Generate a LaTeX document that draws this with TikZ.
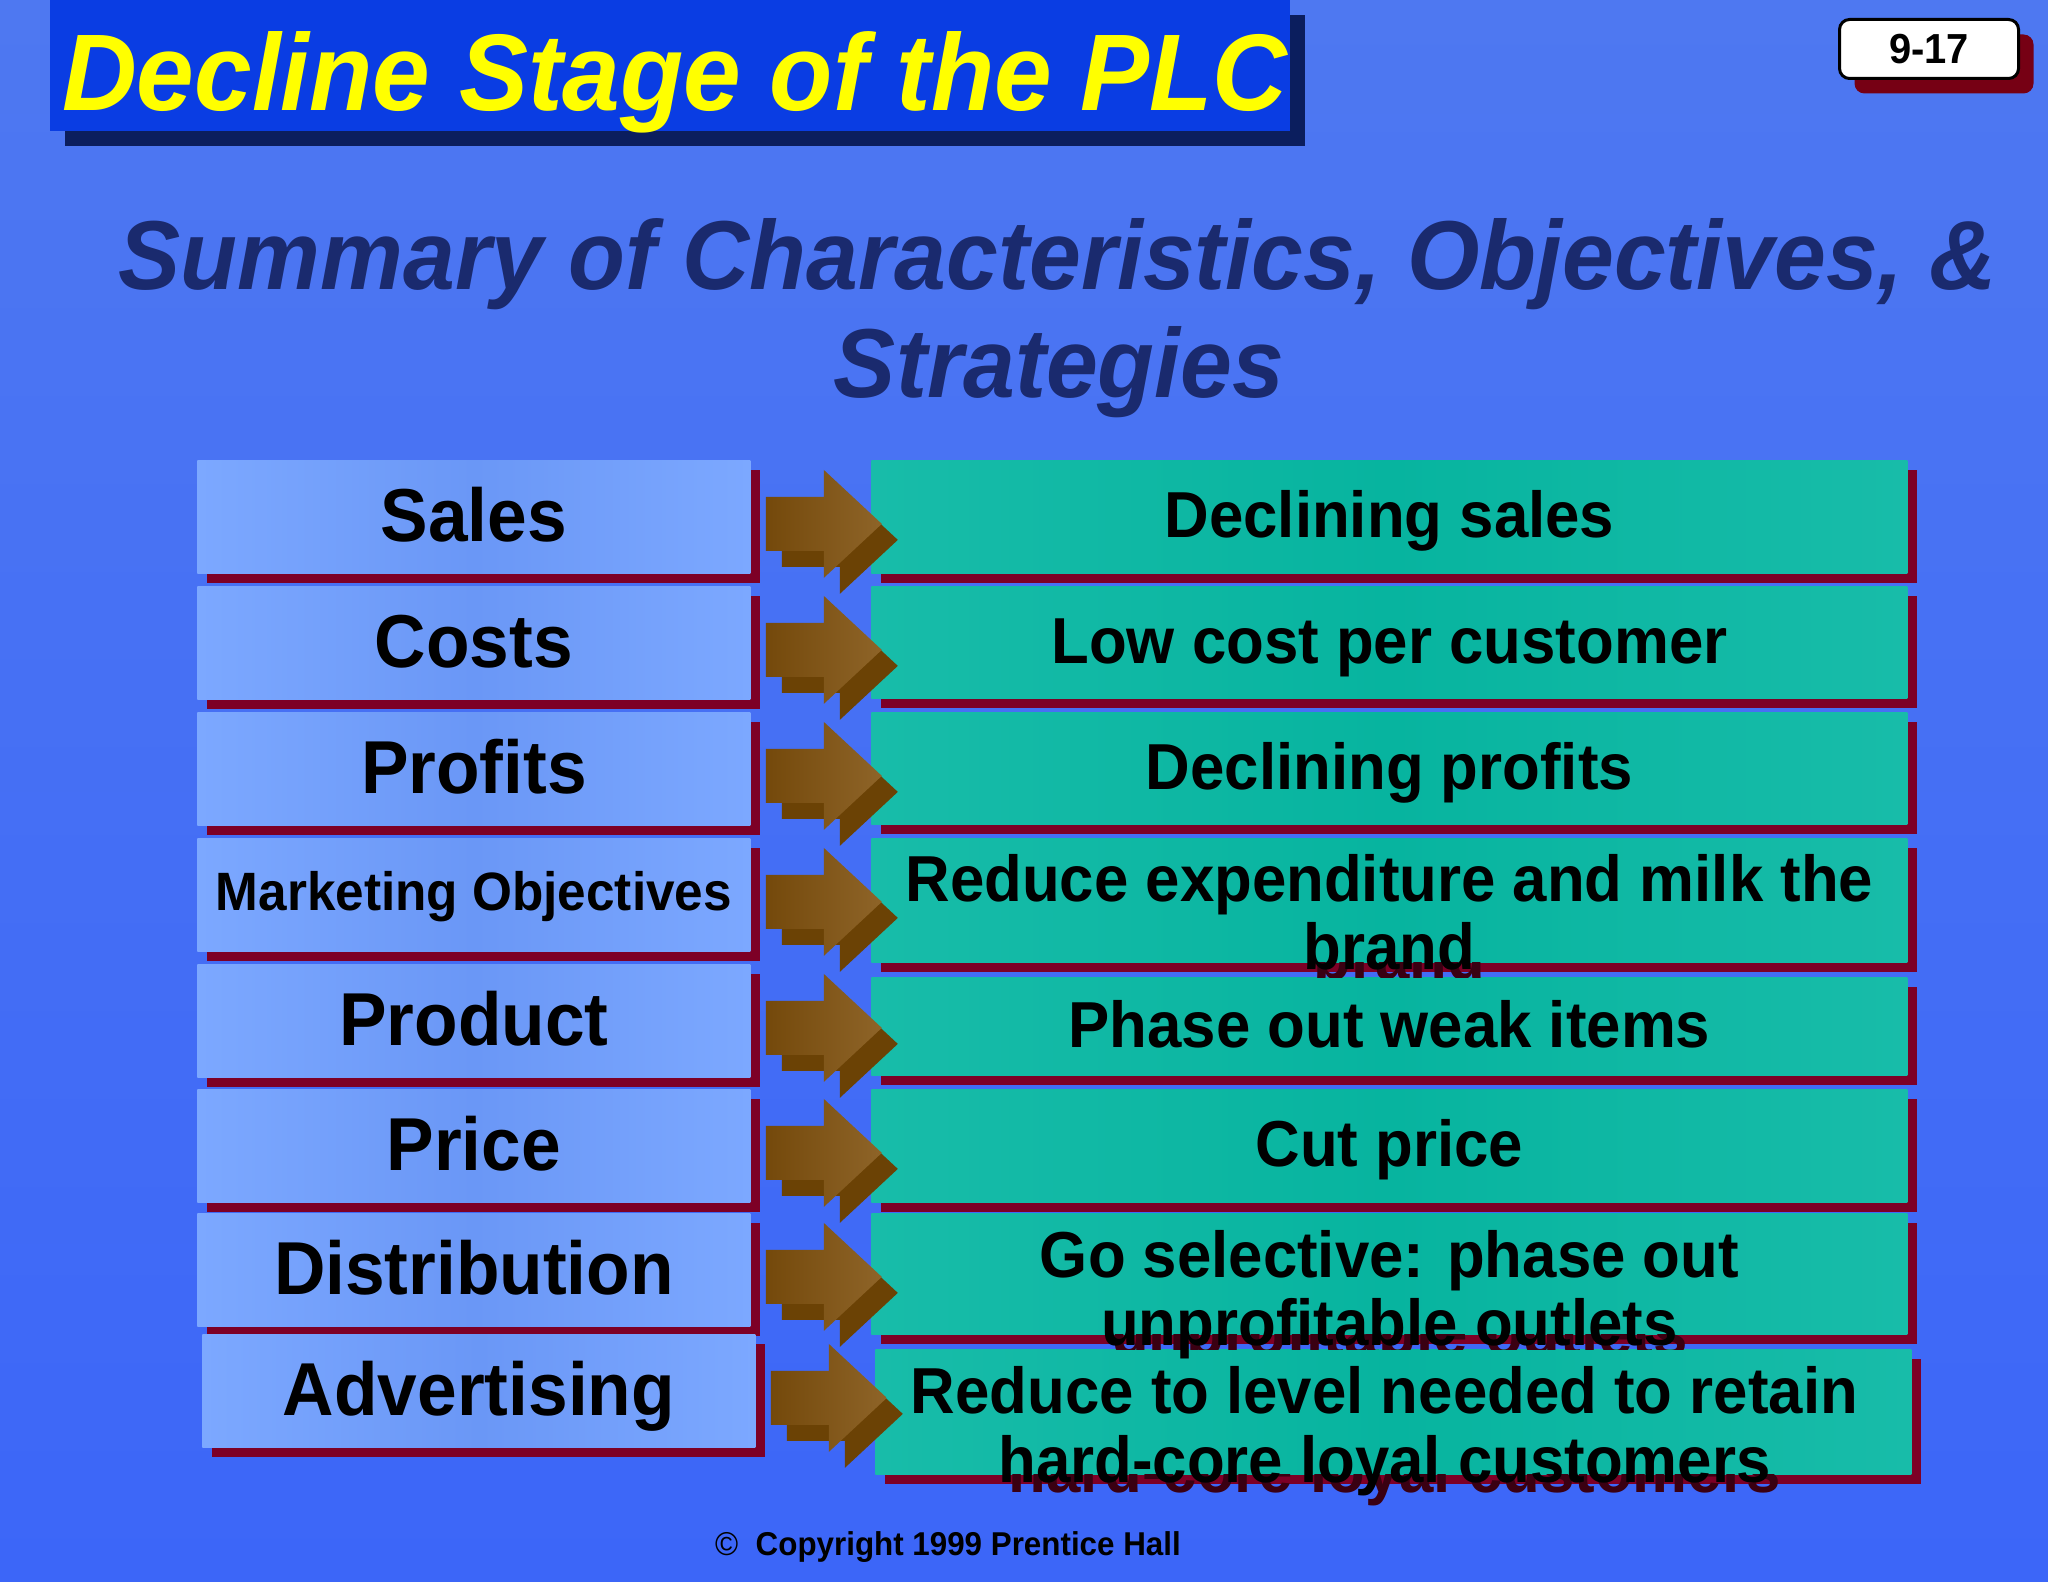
\documentclass[tikz,border=0pt]{standalone}
\usepackage{fontspec}
\setmainfont{Liberation Sans}[FakeStretch=0.95]
\usetikzlibrary{shadows,calc}
\definecolor{bgtop}{HTML}{4E78F1}
\definecolor{bgbot}{HTML}{3C66F8}
\definecolor{titlebg}{HTML}{0A3DE3}
\definecolor{titlesh}{HTML}{0B1E5E}
\definecolor{subnavy}{HTML}{1A2A6E}
\definecolor{lblueA}{HTML}{7CA8FF}
\definecolor{lblueB}{HTML}{6A97F6}
\definecolor{plctealA}{HTML}{18BCA9}
\definecolor{plctealB}{HTML}{07B49F}
\definecolor{shred}{HTML}{7D0026}
\definecolor{pgsh}{HTML}{760014}
\definecolor{arA}{HTML}{74490B}
\definecolor{arB}{HTML}{8E6428}
\definecolor{arS}{HTML}{6B4205}
\definecolor{txtsh}{HTML}{3A0012}
\definecolor{plcyellow}{HTML}{FFFF00}
\newcommand\plcarrow[1]{%
  \fill[arS] ([shift={(15.5pt,2pt)}]L#1.east) -- ++(29pt,0pt) -- ++(0pt,13.5pt)
     -- ++(29pt,-27pt) -- ++(-29pt,-27pt) -- ++(0pt,13.5pt) -- ++(-29pt,0pt) -- cycle;
  \shade[left color=arA,right color=arB] ([shift={(7.5pt,10pt)}]L#1.east) -- ++(29pt,0pt) -- ++(0pt,13.5pt)
     -- ++(29pt,-27pt) -- ++(-29pt,-27pt) -- ++(0pt,13.5pt) -- ++(-29pt,0pt) -- cycle;}
\begin{document}
\begin{tikzpicture}[x=0.5pt,y=-0.5pt,
  lbox/.style={left color=lblueA, right color=lblueA, middle color=lblueB,
    minimum width=276.5pt, minimum height=56.5pt, inner sep=0pt, anchor=north west,
    drop shadow={shadow xshift=5pt,shadow yshift=-5pt,fill=shred,opacity=1}},
  rbox/.style={left color=plctealA, right color=plctealA, middle color=plctealB,
    minimum width=518pt, inner sep=0pt, anchor=north west,
    drop shadow={shadow xshift=5pt,shadow yshift=-5pt,fill=shred,opacity=1}},
  ltxt/.style={font=\fontsize{37.5pt}{40pt}\selectfont\bfseries, anchor=base, inner sep=0pt},
  mtxt/.style={font=\fontsize{27pt}{30pt}\selectfont\bfseries, anchor=base, inner sep=0pt},
  rtxt/.style={font=\fontsize{32.5pt}{36pt}\selectfont\bfseries, anchor=base, inner sep=0pt},
  rtxtsh/.style={rtxt, text=txtsh}
]
\useasboundingbox (0,0) rectangle (2048,1582);
\shade[top color=bgtop,bottom color=bgbot] (0,0) rectangle (2048,1582);

% title
\node[fill=titlebg, minimum width=620pt, minimum height=65.5pt, inner sep=0pt, anchor=north west,
  drop shadow={shadow xshift=7.5pt,shadow yshift=-7.5pt,fill=titlesh,opacity=1}] (titlebox) at (50,0) {};
\node[font=\fontsize{54.5pt}{58pt}\selectfont\bfseries\itshape, text=plcyellow, anchor=base, inner sep=0pt]
  (title) at (675,111) {Decline Stage of the PLC};

% page number
\node[fill=white, draw=black, line width=1.5pt, rounded corners=5pt, minimum width=89.5pt, minimum height=29.5pt,
  inner sep=0pt, anchor=north west, font=\fontsize{21pt}{24pt}\selectfont\bfseries,
  drop shadow={shadow xshift=7.5pt,shadow yshift=-7.5pt,fill=pgsh,opacity=1,draw=none}] (pg) at (1838,18) {9-17};

% subtitle
\node[font=\fontsize{49pt}{52pt}\selectfont\bfseries\itshape, text=subnavy, anchor=base, inner sep=0pt]
  (sub1) at (1058,290) {Summary of Characteristics, Objectives, \&};
\node[font=\fontsize{49pt}{52pt}\selectfont\bfseries\itshape, text=subnavy, anchor=base, inner sep=0pt]
  (sub2) at (1059,398) {Strategies};

% left boxes
\node[lbox] (L1) at (197,460) {};
\node[lbox] (L2) at (197,586) {};
\node[lbox] (L3) at (197,712) {};
\node[lbox] (L4) at (197,838) {};
\node[lbox] (L5) at (197,964) {};
\node[lbox] (L6) at (197,1089) {};
\node[lbox] (L7) at (197,1213) {};
\node[lbox] (L8) at (202,1334) {};

% right boxes
\node[rbox, minimum height=56.5pt] (R1) at (871,460) {};
\node[rbox, minimum height=56pt] (R2) at (871,586) {};
\node[rbox, minimum height=56pt] (R3) at (871,712) {};
\node[rbox, minimum height=62pt] (R4) at (871,838) {};
\node[rbox, minimum height=49pt] (R5) at (871,977) {};
\node[rbox, minimum height=56.5pt] (R6) at (871,1089) {};
\node[rbox, minimum height=60.5pt] (R7) at (871,1213) {};
\node[rbox, minimum height=62.5pt] (R8) at (875,1349) {};

% text shadows of overflowing lines
\begin{scope}
  \clip (0,962) rectangle (2048,977);
  \node[rtxtsh] (sR4) at ([shift={(5pt,-39.5pt)}]R4.center) {brand};
\end{scope}
\begin{scope}
  \clip (0,1334) rectangle (2048,1349);
  \node[rtxtsh] (sR7) at ([shift={(5pt,-40.75pt)}]R7.center) {unprofitable outlets};
\end{scope}
\begin{scope}
  \clip (0,1474) rectangle (2048,1582);
  \node[rtxtsh] (sR8) at ([shift={(0.5pt,-40.25pt)}]R8.center) {hard-core loyal customers};
\end{scope}

% arrows
\plcarrow{1}\plcarrow{2}\plcarrow{3}\plcarrow{4}
\plcarrow{5}\plcarrow{6}\plcarrow{7}\plcarrow{8}

% left labels
\node[ltxt] (tL1) at ([yshift=-12.5pt]L1.center) {Sales};
\node[ltxt] (tL2) at ([yshift=-12.5pt]L2.center) {Costs};
\node[ltxt] (tL3) at ([yshift=-12.5pt]L3.center) {Profits};
\node[mtxt] (tL4) at ([yshift=-8pt]L4.center) {Marketing Objectives};
\node[ltxt] (tL5) at ([yshift=-12.5pt]L5.center) {Product};
\node[ltxt] (tL6) at ([yshift=-12.5pt]L6.center) {Price};
\node[ltxt] (tL7) at ([yshift=-12.5pt]L7.center) {Distribution};
\node[ltxt] (tL8) at ([yshift=-12.5pt]L8.center) {Advertising};

% right labels
\node[rtxt] (tR1) at ([yshift=-10.5pt]R1.center) {Declining sales};
\node[rtxt] (tR2) at ([yshift=-10.5pt]R2.center) {Low cost per customer};
\node[rtxt] (tR3) at ([yshift=-10.5pt]R3.center) {Declining profits};
\node[rtxt] (tR4a) at ([yshift=-0.5pt]R4.center) {Reduce expenditure and milk the};
\node[rtxt] (tR4b) at ([yshift=-34.5pt]R4.center) {brand};
\node[rtxt] (tR5) at ([yshift=-10.5pt]R5.center) {Phase out weak items};
\node[rtxt] (tR6) at ([yshift=-10.5pt]R6.center) {Cut price};
\node[rtxt] (tR7a) at ([yshift=-1.75pt]R7.center) {Go selective: phase out};
\node[rtxt] (tR7b) at ([yshift=-35.75pt]R7.center) {unprofitable outlets};
\node[rtxt] (tR8a) at ([shift={(-4.5pt,-0.75pt)}]R8.center) {Reduce to level needed to retain};
\node[rtxt] (tR8b) at ([shift={(-4.5pt,-35.25pt)}]R8.center) {hard-core loyal customers};

% copyright
\node[font=\fontsize{16.5pt}{18pt}\selectfont\bfseries, anchor=base, inner sep=0pt]
  (copy) at (948,1555) {{\mdseries\char"00A9}\ \ Copyright 1999 Prentice Hall};
\end{tikzpicture}
\end{document}
